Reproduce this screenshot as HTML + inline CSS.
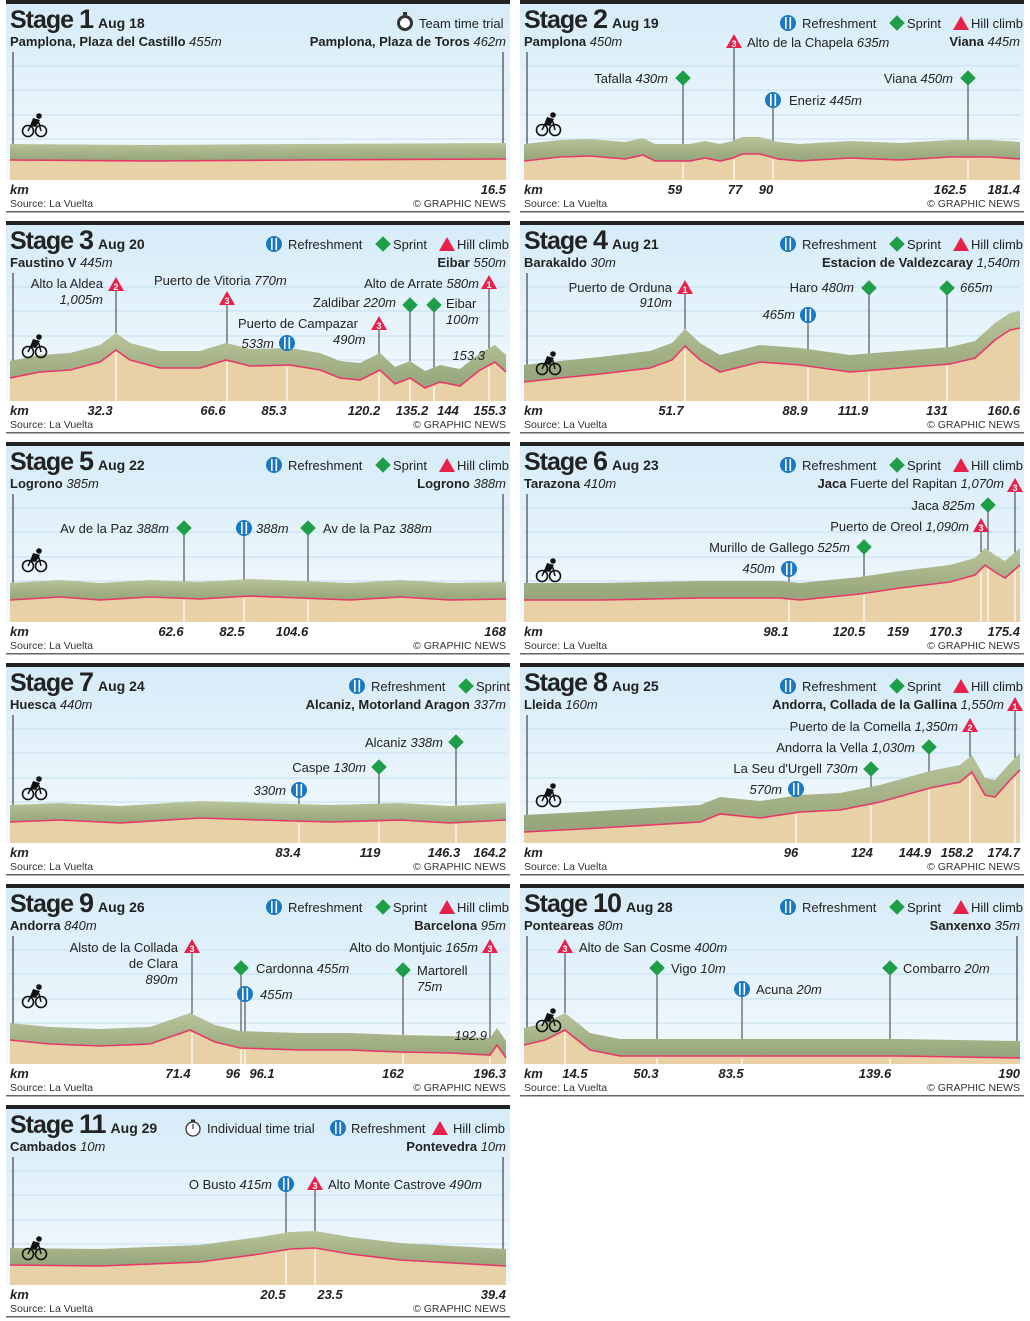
<!DOCTYPE html>
<html><head><meta charset="utf-8">
<style>
html,body{margin:0;padding:0;background:#fff;}
svg{display:block;font-family:"Liberation Sans",sans-serif;}
.t{font-size:13px;fill:#222;}
.b{font-weight:bold;}
.i{font-style:italic;}
.km{font-size:13px;font-weight:bold;font-style:italic;fill:#222;}
.src{font-size:10.5px;fill:#333;}
.st{font-size:25px;font-weight:bold;fill:#222;letter-spacing:-1px;}
.dt{font-size:14px;font-weight:bold;fill:#222;}
</style></head><body>
<svg id="s" width="1030" height="1321" viewBox="0 0 1030 1321" xmlns="http://www.w3.org/2000/svg">
<defs>
<linearGradient id="bg" x1="0" y1="0" x2="0" y2="1"><stop offset="0" stop-color="#d6ecf8"/><stop offset="1" stop-color="#f3f9fd"/></linearGradient>
<linearGradient id="gr" x1="0" y1="0" x2="0" y2="1"><stop offset="0" stop-color="#b9c49a"/><stop offset="1" stop-color="#95a47a"/></linearGradient>
</defs>
</svg>
<script>
var S=document.getElementById('s');var out='';
function esc(s){return s.replace(/&/g,'&amp;').replace(/</g,'&lt;');}
function txt(x,y,parts,anchor,cls){
 var s='<text x="'+x+'" y="'+y+'" class="'+(cls||'t')+'" text-anchor="'+(anchor||'start')+'">';
 parts.forEach(function(p,k){var c=p[1]=='i'?'i':p[1]=='b'?'b':'';s+='<tspan'+(c?' class="'+c+'"':'')+'>'+(k?' ':'')+esc(p[0])+'</tspan>';});
 return s+'</text>';}
function diamond(x,y){return '<rect x="'+(x-5.5)+'" y="'+(y-5.5)+'" width="11" height="11" fill="#1f9e48" transform="rotate(45 '+x+' '+y+')"/>';}
function tri(x,y,n){return '<polygon points="'+x+','+(y-8)+' '+(x+8)+','+(y+6)+' '+(x-8)+','+(y+6)+'" fill="#e8214b"/>'+(n?'<text x="'+x+'" y="'+(y+5)+'" font-size="9" font-weight="bold" fill="#fff" text-anchor="middle">'+n+'</text>':'');}
function ref(x,y){return '<circle cx="'+x+'" cy="'+y+'" r="8" fill="#1a78c2"/><rect x="'+(x-3)+'" y="'+(y-6)+'" width="1.6" height="12" fill="#fff"/><rect x="'+(x+1.5)+'" y="'+(y-6)+'" width="1.6" height="12" fill="#fff"/>';}
function clock(x,y){return '<circle cx="'+x+'" cy="'+(y+1)+'" r="7" fill="#fff" stroke="#333" stroke-width="1.3"/><rect x="'+(x-2)+'" y="'+(y-8.5)+'" width="4" height="2" fill="#333"/><line x1="'+x+'" y1="'+(y+1)+'" x2="'+x+'" y2="'+(y-4)+'" stroke="#333" stroke-width="1.2"/>';}
function tt(x,y){return '<circle cx="'+x+'" cy="'+y+'" r="8" fill="#333"/><circle cx="'+x+'" cy="'+y+'" r="5" fill="#fff"/><rect x="'+(x-2)+'" y="'+(y-11)+'" width="4" height="3" fill="#333"/>';}
function rider(x,y){return '<g stroke="#111" fill="none" stroke-width="1.6"><circle cx="'+(x-6)+'" cy="'+(y+4)+'" r="5.5"/><circle cx="'+(x+7)+'" cy="'+(y+4)+'" r="5.5"/></g><path d="M'+(x-6)+' '+(y+4)+' L'+(x-1)+' '+(y-6)+' L'+(x+5)+' '+(y-4)+' L'+(x+7)+' '+(y+4)+'" stroke="#111" stroke-width="1.5" fill="none"/><path d="M'+(x-4)+' '+(y-1)+' L'+(x-1)+' '+(y-9)+' L'+(x+6)+' '+(y-7)+' L'+(x+2)+' '+(y)+' Z" fill="#111"/><circle cx="'+(x+5)+'" cy="'+(y-11)+'" r="2.8" fill="#111"/>';}
function lerpY(P,x){for(var i=0;i<P.length-1;i++){if(x>=P[i][0]&&x<=P[i+1][0]){var t=(x-P[i][0])/(P[i+1][0]-P[i][0]||1);return P[i][1]+t*(P[i+1][1]-P[i][1]);}}return P[P.length-1][1];}
function panel(o){
 var L=o.c?520:6,R=L+504,T=o.r*221,base=T+180;
 var s='';
 s+='<rect x="'+L+'" y="'+T+'" width="504" height="4" fill="#222"/>';
 s+='<rect x="'+L+'" y="'+(T+4)+'" width="504" height="176" fill="url(#bg)"/>';
 [66,90,115,139].forEach(function(g){s+='<line x1="'+(L+4)+'" x2="'+(R-4)+'" y1="'+(T+g)+'" y2="'+(T+g)+'" stroke="#c4e0f0" stroke-width="1"/>';});
 var P=o.p,th=o.th||17;
 var top=P.map(function(p){return p[0]+','+(p[1]-th)}).join(' ');
 var bot=P.slice().reverse().map(function(p){return p[0]+','+p[1]}).join(' ');
 s+='<polygon points="'+top+' '+bot+'" fill="url(#gr)"/>';
 s+='<polygon points="'+P.map(function(p){return p[0]+','+p[1]}).join(' ')+' '+P[P.length-1][0]+','+base+' '+P[0][0]+','+base+'" fill="#e8d1a6"/>';
 s+='<polyline points="'+P.map(function(p){return p[0]+','+p[1]}).join(' ')+'" fill="none" stroke="#e6386a" stroke-width="1.6"/>';
 s+='<line x1="'+(L+7)+'" x2="'+(L+7)+'" y1="'+(T+52)+'" y2="'+(lerpY(P,L+7)-th)+'" stroke="#444" stroke-width="1.2"/>';
 if(o.end){s+='<line x1="'+(R-7)+'" x2="'+(R-7)+'" y1="'+(T+52)+'" y2="'+(lerpY(P,R-7)-th)+'" stroke="#444" stroke-width="1.2"/>';}
 (o.m||[]).forEach(function(m){
  var x=m[0],y=m[1],ty=m[2];var py=lerpY(P,x);
  s+='<line x1="'+x+'" x2="'+x+'" y1="'+y+'" y2="'+(py-th)+'" stroke="#555" stroke-width="1.2"/>';
  s+='<line x1="'+x+'" x2="'+x+'" y1="'+(py+2)+'" y2="'+base+'" stroke="#fff" stroke-width="1.2"/>';
  if(ty=='d')s+=diamond(x,y);else if(ty=='r')s+=ref(x,y);else if(ty)s+=tri(x,y,ty);
 });
 (o.tx||[]).forEach(function(a){s+=txt(a[0],a[1],a[2],a[3]);});
 s+=rider(L+28,T+(o.ry||127));
 s+='<text x="'+(L+4)+'" y="'+(T+28)+'" class="st">Stage <tspan font-size="27">'+o.n+'</tspan> <tspan class="dt" dx="-1" style="letter-spacing:0">'+o.d+'</tspan></text>';
 s+=txt(L+4,T+46,[[o.s[0],'b'],[o.s[1],'i']],'start');
 s+=txt(R-4-(o.eo||0),T+46,o.e,'end');
 var lg=o.lg,lx;
 if(lg=='tt'){s+=tt(L+399,T+23);s+=txt(L+413,T+28,[['Team time trial','n']]);}
 else if(lg=='full'){lx=R-236;s+=ref(lx,T+23)+txt(lx+14,T+28,[['Refreshment','n']])+diamond(lx+109,T+23)+txt(lx+119,T+28,[['Sprint','n']])+tri(lx+173,T+24,'')+txt(lx+183,T+28,[['Hill climb','n']]);}
 else if(lg=='rs'){lx=R-153;s+=ref(lx,T+23)+txt(lx+14,T+28,[['Refreshment','n']])+diamond(lx+109,T+23)+txt(lx+119,T+28,[['Sprint','n']]);}
 else if(lg=='itt'){s+=clock(L+187,T+23)+txt(L+201,T+28,[['Individual time trial','n']])+ref(L+332,T+23)+txt(L+345,T+28,[['Refreshment','n']])+tri(L+434,T+24,'')+txt(L+447,T+28,[['Hill climb','n']]);}
 s+='<text x="'+(L+4)+'" y="'+(T+194)+'" class="km">km</text>';
 o.k.forEach(function(k,i){var last=i==o.k.length-1;s+='<text x="'+(last?R-4:k[0])+'" y="'+(T+194)+'" class="km" text-anchor="'+(last?'end':'middle')+'">'+k[1]+'</text>';});
 s+='<text x="'+(L+4)+'" y="'+(T+207)+'" class="src">Source: La Vuelta</text>';
 s+='<text x="'+(R-4)+'" y="'+(T+207)+'" class="src" text-anchor="end">© GRAPHIC NEWS</text>';
 s+='<rect x="'+L+'" y="'+(T+211)+'" width="504" height="1.5" fill="#666"/>';
 out+=s;}
panel({c:0,r:0,n:1,d:'Aug 18',s:['Pamplona, Plaza del Castillo','455m'],e:[['Pamplona, Plaza de Toros','b'],['462m','i']],lg:'tt',end:1,th:16,
 p:[[10,160],[150,161],[300,160],[506,159]],k:[[500,'16.5']]});
panel({c:1,r:0,n:2,d:'Aug 19',s:['Pamplona','450m'],e:[['Viana','b'],['445m','i']],lg:'full',ry:126,
 p:[[524,161],[560,157],[590,156],[625,159],[643,155],[655,161],[690,161],[705,158],[720,161],[733,158],[742,154],[760,154],[778,159],[800,161],[850,158],[900,160],[950,157],[990,157],[1020,159]],
 m:[[683,78,'d'],[773,100,'r'],[968,78,'d'],[734,42,'3']],
 tx:[[668,83,[['Tafalla','n'],['430m','i']],'end'],[789,105,[['Eneriz','n'],['445m','i']]],[953,83,[['Viana','n'],['450m','i']],'end'],[747,47,[['Alto de la Chapela','n'],['635m','i']]]],
 k:[[675,'59'],[735,'77'],[766,'90'],[950,'162.5'],[1001,'181.4']]});
panel({c:0,r:1,n:3,d:'Aug 20',s:['Faustino V','445m'],e:[['Eibar','b'],['550m','i']],lg:'full',
 p:[[10,378],[40,372],[70,370],[100,362],[116,350],[130,360],[160,368],[200,368],[226,360],[250,366],[290,365],[320,370],[340,378],[360,380],[380,370],[395,384],[410,378],[425,388],[440,382],[460,386],[480,370],[495,362],[506,372]],
 m:[[116,285,'2'],[227,299,'3'],[287,343,'r'],[379,324,'3'],[410,305,'d'],[434,305,'d'],[489,283,'1']],
 tx:[[103,288,[['Alto la Aldea','n']],'end'],[103,304,[['1,005m','i']],'end'],[154,285,[['Puerto de Vitoria','n'],['770m','i']]],[274,348,[['533m','i']],'end'],[238,328,[['Puerto de Campazar','n']]],[333,344,[['490m','i']]],[396,307,[['Zaldibar','n'],['220m','i']],'end'],[446,308,[['Eibar','n']]],[446,324,[['100m','i']]],[479,288,[['Alto de Arrate','n'],['580m','i']],'end'],[485,360,[['153.3','i']],'end']],
 k:[[100,'32.3'],[213,'66.6'],[274,'85.3'],[364,'120.2'],[412,'135.2'],[448,'144'],[488,'155.3']]});
panel({c:1,r:1,n:4,d:'Aug 21',s:['Barakaldo','30m'],e:[['Estacion de Valdezcaray','b'],['1,540m','i']],lg:'full',ry:144,
 p:[[524,382],[560,378],[600,374],[650,368],[672,360],[685,346],[700,360],[720,372],[760,362],[800,365],[850,372],[900,368],[950,364],[975,358],[995,340],[1010,330],[1020,328]],
 m:[[685,288,'1'],[869,288,'d'],[947,288,'d'],[808,315,'r']],
 tx:[[672,292,[['Puerto de Orduna','n']],'end'],[672,307,[['910m','i']],'end'],[854,292,[['Haro','n'],['480m','i']],'end'],[960,292,[['665m','i']]],[795,319,[['465m','i']],'end']],
 k:[[671,'51.7'],[795,'88.9'],[853,'111.9'],[937,'131'],[1002,'160.6']]});
panel({c:0,r:2,n:5,d:'Aug 22',s:['Logrono','385m'],e:[['Logrono','b'],['388m','i']],lg:'full',ry:120,end:1,
 p:[[10,600],[60,597],[100,600],[150,597],[200,599],[250,596],[300,598],[350,600],[400,597],[450,600],[506,599]],
 m:[[184,528,'d'],[244,528,'r'],[308,528,'d']],
 tx:[[169,533,[['Av de la Paz','n'],['388m','i']],'end'],[256,533,[['388m','i']]],[323,533,[['Av de la Paz','n'],['388m','i']]]],
 k:[[171,'62.6'],[232,'82.5'],[292,'104.6'],[494,'168']]});
panel({c:1,r:2,n:6,d:'Aug 23',s:['Tarazona','410m'],e:[['Jaca','b'],['Fuerte del Rapitan','n'],['1,070m','i']],eo:16,lg:'full',ry:130,
 p:[[524,600],[600,600],[700,598],[780,598],[800,600],[860,594],[900,588],[950,582],[975,575],[985,565],[995,572],[1005,578],[1020,565]],
 m:[[1015,486,'3'],[988,505,'d'],[981,526,'3'],[864,547,'d'],[789,569,'r']],
 tx:[[975,510,[['Jaca','n'],['825m','i']],'end'],[969,531,[['Puerto de Oreol','n'],['1,090m','i']],'end'],[850,552,[['Murillo de Gallego','n'],['525m','i']],'end'],[775,573,[['450m','i']],'end']],
 k:[[776,'98.1'],[849,'120.5'],[898,'159'],[946,'170.3'],[1002,'175.4']]});
panel({c:0,r:3,n:7,d:'Aug 24',s:['Huesca','440m'],e:[['Alcaniz, Motorland Aragon','b'],['337m','i']],lg:'rs',
 p:[[10,822],[60,820],[120,823],[200,818],[260,820],[330,822],[400,820],[450,823],[506,820]],
 m:[[456,742,'d'],[379,767,'d'],[299,790,'r']],
 tx:[[443,747,[['Alcaniz','n'],['338m','i']],'end'],[366,772,[['Caspe','n'],['130m','i']],'end'],[286,795,[['330m','i']],'end']],
 k:[[288,'83.4'],[370,'119'],[444,'146.3'],[489,'164.2']]});
panel({c:1,r:3,n:8,d:'Aug 25',s:['Lleida','160m'],e:[['Andorra, Collada de la Gallina','b'],['1,550m','i']],eo:16,lg:'full',ry:134,
 p:[[524,832],[600,828],[700,822],[720,814],[760,818],[800,812],[840,810],[880,802],[930,788],[960,782],[972,772],[985,795],[995,797],[1010,780],[1020,770]],
 m:[[1015,705,'1'],[970,726,'2'],[929,747,'d'],[871,769,'d'],[796,789,'r']],
 tx:[[958,731,[['Puerto de la Comella','n'],['1,350m','i']],'end'],[915,752,[['Andorra la Vella','n'],['1,030m','i']],'end'],[858,773,[["La Seu d'Urgell",'n'],['730m','i']],'end'],[782,794,[['570m','i']],'end']],
 k:[[791,'96'],[862,'124'],[915,'144.9'],[957,'158.2'],[1002,'174.7']]});
panel({c:0,r:4,n:9,d:'Aug 26',s:['Andorra','840m'],e:[['Barcelona','b'],['95m','i']],lg:'full',ry:114,
 p:[[10,1040],[50,1044],[100,1046],[150,1044],[190,1030],[215,1042],[240,1048],[300,1050],[350,1050],[400,1052],[450,1053],[490,1055],[497,1045],[506,1058]],
 m:[[192,947,'3'],[490,947,'3'],[241,968,'d'],[245,994,'r'],[403,970,'d']],
 tx:[[178,952,[['Alsto de la Collada','n']],'end'],[178,968,[['de Clara','n']],'end'],[178,984,[['890m','i']],'end'],[478,952,[['Alto do Montjuic','n'],['165m','i']],'end'],[256,973,[['Cardonna','n'],['455m','i']]],[260,999,[['455m','i']]],[417,975,[['Martorell','n']]],[417,991,[['75m','i']]],[487,1040,[['192.9','i']],'end']],
 k:[[178,'71.4'],[233,'96'],[262,'96.1'],[393,'162'],[489,'196.3']]});
panel({c:1,r:4,n:10,d:'Aug 28',s:['Ponteareas','80m'],e:[['Sanxenxo','b'],['35m','i']],lg:'full',ry:138,end:1,
 p:[[524,1045],[545,1040],[565,1030],[590,1050],[620,1056],[700,1056],[800,1056],[900,1056],[1020,1058]],
 m:[[565,947,'3'],[657,968,'d'],[742,989,'r'],[890,968,'d']],
 tx:[[579,952,[['Alto de San Cosme','n'],['400m','i']]],[671,973,[['Vigo','n'],['10m','i']]],[756,994,[['Acuna','n'],['20m','i']]],[903,973,[['Combarro','n'],['20m','i']]]],
 k:[[575,'14.5'],[646,'50.3'],[731,'83.5'],[875,'139.6'],[1008,'190']]});
panel({c:0,r:5,n:11,d:'Aug 29',s:['Cambados','10m'],e:[['Pontevedra','b'],['10m','i']],lg:'itt',ry:145,end:1,
 p:[[10,1265],[100,1266],[200,1262],[260,1254],[290,1249],[315,1248],[350,1254],[400,1260],[506,1266]],
 m:[[286,1184,'r'],[315,1184,'3']],
 tx:[[272,1189,[['O Busto','n'],['415m','i']],'end'],[328,1189,[['Alto Monte Castrove','n'],['490m','i']]]],
 k:[[273,'20.5'],[330,'23.5'],[492,'39.4']]});
S.insertAdjacentHTML('beforeend',out);
</script>
</body></html>
